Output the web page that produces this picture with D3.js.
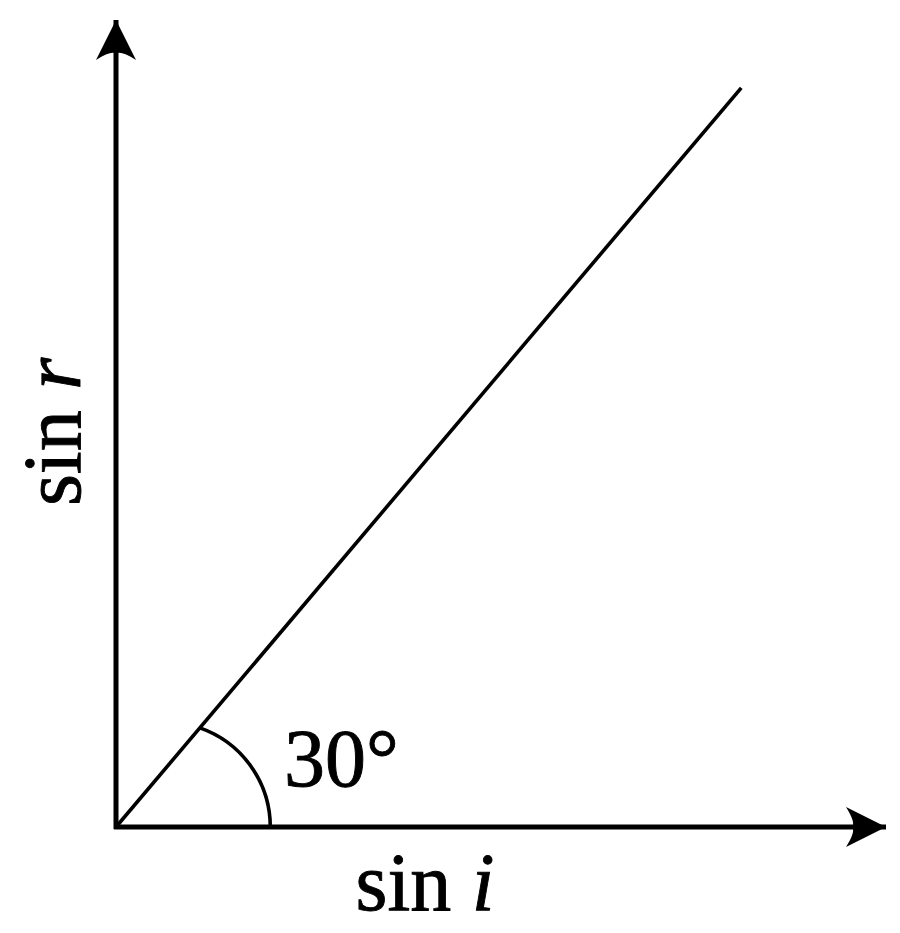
<!DOCTYPE html>
<html>
<head>
<meta charset="utf-8">
<script src="https://cdn.jsdelivr.net/npm/d3@7"></script>
<style>
  html, body { margin: 0; padding: 0; background: #fff; }
  svg { display: block; }
  text { font-family: "Liberation Serif", "Times New Roman", serif; fill: #000; stroke: #000; stroke-width: 0.9; }
</style>
</head>
<body>
<svg id="chart" width="900" height="933"></svg>
<script>
// Data (axis units, 0..1)
const axisExtent = { x: 1, y: 1 };
const linePoints = [[0, 0], [0.812, 0.916]];
const angleArc = { cx: 0.064, radiusPx: 105 };
const angleLabel = "30°";
const xLabel = ["sin ", "i"];
const yLabel = ["sin ", "r"];

const width = 900, height = 933;
const origin = { x: 116, y: 827 };

const x = d3.scaleLinear().domain([0, axisExtent.x]).range([origin.x, 886]);
const y = d3.scaleLinear().domain([0, axisExtent.y]).range([origin.y, 20]);

const svg = d3.select('#chart');

// Arrow head marker (concave back)
svg.append('defs').append('marker')
  .attr('id', 'arrow')
  .attr('viewBox', '0 -10 20 20')
  .attr('refX', 20)
  .attr('refY', 0)
  .attr('markerUnits', 'userSpaceOnUse')
  .attr('markerWidth', 40)
  .attr('markerHeight', 40)
  .attr('orient', 'auto')
  .append('path')
  .attr('d', 'M20,0 L0,-10 Q5,-2 3,0 Q5,2 0,10 Z')
  .attr('fill', '#000');

// Axes
svg.append('line')
  .attr('x1', x(0) - 2).attr('y1', y(0))
  .attr('x2', x(axisExtent.x)).attr('y2', y(0))
  .attr('stroke', '#000').attr('stroke-width', 5)
  .attr('marker-end', 'url(#arrow)');

svg.append('line')
  .attr('x1', x(0)).attr('y1', y(0) + 2)
  .attr('x2', x(0)).attr('y2', y(axisExtent.y))
  .attr('stroke', '#000').attr('stroke-width', 5)
  .attr('marker-end', 'url(#arrow)');

// Straight line through origin
svg.append('path')
  .datum(linePoints)
  .attr('d', d3.line().x(d => x(d[0])).y(d => y(d[1])))
  .attr('fill', 'none')
  .attr('stroke', '#000')
  .attr('stroke-width', 3.6);

// Angle arc: circle centred on x axis, from x axis up to the line
const cxPx = x(angleArc.cx), cyPx = y(0), R = angleArc.radiusPx;
const [p0, p1] = linePoints.map(d => [x(d[0]), y(d[1])]);
// intersect circle with the line p0 -> p1
const dx = p1[0] - p0[0], dy = p1[1] - p0[1];
const fx = p0[0] - cxPx, fy = p0[1] - cyPx;
const a = dx * dx + dy * dy, b = 2 * (fx * dx + fy * dy), c = fx * fx + fy * fy - R * R;
const t = (-b + Math.sqrt(b * b - 4 * a * c)) / (2 * a);
const ix = p0[0] + t * dx, iy = p0[1] + t * dy;

const arcPath = d3.path();
arcPath.moveTo(cxPx + R, cyPx);
arcPath.arc(cxPx, cyPx, R, 0, Math.atan2(iy - cyPx, ix - cxPx), true);
svg.append('path')
  .attr('d', arcPath.toString())
  .attr('fill', 'none')
  .attr('stroke', '#000')
  .attr('stroke-width', 3.6);

// Angle label
svg.append('text')
  .attr('x', 284)
  .attr('y', 786)
  .attr('font-size', 82)
  .text(angleLabel);

// x label
const xt = svg.append('text')
  .attr('x', 425)
  .attr('y', 910)
  .attr('text-anchor', 'middle')
  .attr('font-size', 82);
xt.append('tspan').text(xLabel[0]);
xt.append('tspan').attr('font-style', 'italic').text(xLabel[1]);

// y label (rotated)
const yt = svg.append('text')
  .attr('transform', 'translate(80,432) rotate(-90)')
  .attr('text-anchor', 'middle')
  .attr('font-size', 82);
yt.append('tspan').text(yLabel[0]);
yt.append('tspan').attr('font-style', 'italic').text(yLabel[1]);
</script>
</body>
</html>
